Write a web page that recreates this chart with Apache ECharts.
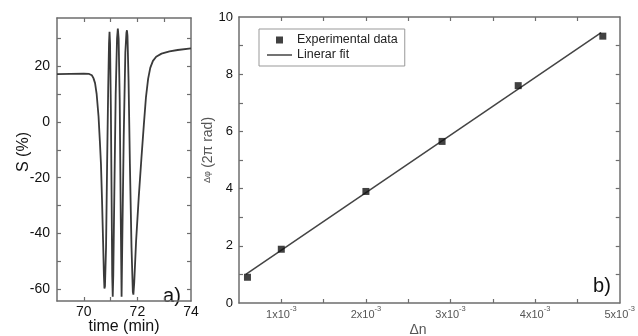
<!DOCTYPE html>
<html>
<head>
<meta charset="utf-8">
<script src="https://cdn.jsdelivr.net/npm/echarts@6/dist/echarts.min.js"></script>
<style>
  html, body { margin: 0; padding: 0; background: #fff; }
  #chart { width: 638px; height: 336px; }
</style>
</head>
<body>
<div id="chart"></div>
<script>
// panel a) signal vs time
const timeMin = [69.0, 69.5, 70.0, 70.2, 70.3, 70.36, 70.42, 70.48, 70.55, 70.6, 70.64, 70.68, 70.72, 70.75, 70.77, 70.79,
  70.83, 70.87, 70.91, 70.94, 70.96, 70.98, 71.01, 71.04, 71.06, 71.08, 71.1, 71.14, 71.19, 71.24, 71.27, 71.3,
  71.34, 71.38, 71.41, 71.44, 71.49, 71.55, 71.59, 71.61, 71.63, 71.67, 71.72, 71.78, 71.83, 71.85, 71.88, 71.95,
  72.05, 72.15, 72.24, 72.32, 72.4, 72.48, 72.58, 72.7, 72.9, 73.2, 73.5, 74.0];
const signal = [17.2, 17.3, 17.4, 17.3, 16.8, 15.8, 14, 10, 2, -7, -15, -28, -43, -55, -59.8, -59,
  -45, -15, 12, 28, 32.4, 28, 5, -30, -55, -62.8, -55, -25, 10, 30, 33.6, 30,
  8, -35, -62.8, -40, -5, 25, 32, 33, 31, 15, -15, -45, -61, -62, -58, -43,
  -27, -13, -1, 9, 15.5, 19.5, 22, 23.5, 24.6, 25.4, 25.9, 26.5];
const aXLabels = [70, 72, 74];
const aXTicks = [70, 71, 72, 73];
const aYLabels = [-60, -40, -20, 0, 20];
const aYTicks = [-60, -50, -40, -30, -20, -10, 0, 10, 20, 30];

// panel b) phase vs index change
const deltaN = [0.0006, 0.001, 0.002, 0.0029, 0.0038, 0.0048];
const deltaPhi = [0.9, 1.88, 3.9, 5.65, 7.6, 9.33];
const fitN = [0.00058, 0.00478];
const fitPhi = [1.0, 9.45];
const bXLabels = [0.001, 0.002, 0.003, 0.004, 0.005];
const bXTicks = [0.001, 0.0015, 0.002, 0.0025, 0.003, 0.0035, 0.004, 0.0045];
const bYLabels = [0, 2, 4, 6, 8, 10];
const bYTicks = [1, 2, 3, 4, 5, 6, 7, 8, 9];

const font = 'Liberation Sans, Arial, sans-serif';
const frame = '#6e6e6e';

function axis(extra, ticks, labels, labelOpts) {
  return Object.assign({
    type: 'value',
    axisLine: { show: true, onZero: false, lineStyle: { color: frame, width: 1.5 } },
    axisTick: { show: true, inside: true, length: 4, customValues: ticks, lineStyle: { color: frame, width: 1.2 } },
    axisLabel: labels ? Object.assign({ customValues: labels, fontFamily: font, color: '#111' }, labelOpts) : { show: false },
    splitLine: { show: false }
  }, extra);
}

const chart = echarts.init(document.getElementById('chart'));
chart.setOption({
  animation: false,
  backgroundColor: '#fff',
  grid: [
    { left: 57, top: 18, width: 134, height: 283 },
    { left: 239, top: 17, width: 382, height: 286 }
  ],
  xAxis: [
    axis({ gridIndex: 0, min: 69, max: 74, position: 'bottom' }, aXTicks, aXLabels, { fontSize: 14, margin: 4 }),
    axis({ gridIndex: 0, min: 69, max: 74, position: 'top' }, aXTicks, null),
    axis({ gridIndex: 1, min: 0.0005, max: 0.005, position: 'bottom' }, bXTicks, bXLabels, {
      margin: 2,
      formatter: v => '{m|' + Math.round(v * 1000) + 'x10}{s|-3}',
      rich: {
        m: { fontSize: 11, fontFamily: font, color: '#555', lineHeight: 15, verticalAlign: 'bottom' },
        s: { fontSize: 7.5, fontFamily: font, color: '#555', lineHeight: 8, verticalAlign: 'top' }
      }
    }),
    axis({ gridIndex: 1, min: 0.0005, max: 0.005, position: 'top' }, bXTicks, null)
  ],
  yAxis: [
    axis({ gridIndex: 0, min: -64.3, max: 37.4, position: 'left' }, aYTicks, aYLabels, { fontSize: 14, margin: 7 }),
    axis({ gridIndex: 0, min: -64.3, max: 37.4, position: 'right' }, aYTicks, null),
    axis({ gridIndex: 1, min: 0, max: 10, position: 'left' }, bYTicks, bYLabels, { fontSize: 13, margin: 6 }),
    axis({ gridIndex: 1, min: 0, max: 10, position: 'right' }, bYTicks, null)
  ],
  legend: {
    left: 259, top: 29,
    orient: 'vertical',
    selectedMode: false,
    itemWidth: 25, itemHeight: 7, itemGap: 1,
    padding: [4, 7, 4, 8],
    borderColor: '#999', borderWidth: 1,
    backgroundColor: '#fff',
    textStyle: { fontFamily: font, fontSize: 12.5, color: '#222', lineHeight: 14 },
    data: [
      { name: 'Experimental data', icon: 'path://M0,0h1v1h-1z' },
      { name: 'Linerar fit', icon: 'path://M0,0h25v1.5h-25z' }
    ]
  },
  series: [
    {
      type: 'line', xAxisIndex: 0, yAxisIndex: 0,
      data: timeMin.map((t, i) => [t, signal[i]]),
      symbol: 'none',
      lineStyle: { color: '#3a3a3a', width: 1.8 }
    },
    {
      name: 'Linerar fit',
      type: 'line', xAxisIndex: 2, yAxisIndex: 2,
      data: fitN.map((n, i) => [n, fitPhi[i]]),
      symbol: 'none',
      itemStyle: { color: '#444' },
      lineStyle: { color: '#444', width: 1.5 },
      z: 2
    },
    {
      name: 'Experimental data',
      type: 'scatter', xAxisIndex: 2, yAxisIndex: 2,
      data: deltaN.map((n, i) => [n, deltaPhi[i]]),
      symbol: 'rect', symbolSize: 7,
      itemStyle: { color: '#111' },
      z: 3
    }
  ],
  graphic: [
    { type: 'text', x: 24, y: 152, rotation: Math.PI / 2,
      style: { text: 'S (%)', font: '16px ' + font, fill: '#111', align: 'center', verticalAlign: 'middle' } },
    { type: 'text', x: 124, y: 327,
      style: { text: 'time (min)', font: '16px ' + font, fill: '#111', align: 'center', verticalAlign: 'middle' } },
    { type: 'text', x: 172, y: 296,
      style: { text: 'a)', font: '20px ' + font, fill: '#111', align: 'center', verticalAlign: 'middle' } },
    { type: 'text', x: 208, y: 150, rotation: Math.PI / 2,
      style: {
        text: '{s|Δφ} {b|(2π rad)}', align: 'center', verticalAlign: 'middle',
        rich: {
          s: { fontFamily: font, fontSize: 9, fill: '#555' },
          b: { fontFamily: font, fontSize: 14, fill: '#555' }
        }
      } },
    { type: 'text', x: 418, y: 330,
      style: { text: 'Δn', font: '14px ' + font, fill: '#555', align: 'center', verticalAlign: 'middle' } },
    { type: 'text', x: 602, y: 286,
      style: { text: 'b)', font: '20px ' + font, fill: '#111', align: 'center', verticalAlign: 'middle' } }
  ]
});
</script>
</body>
</html>
